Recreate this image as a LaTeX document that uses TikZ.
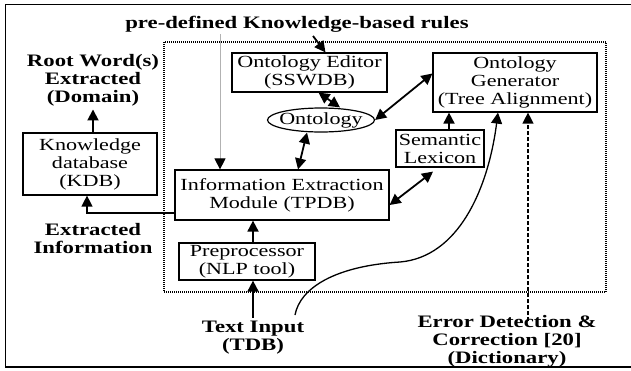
\documentclass[tikz,border=0pt]{standalone}
\usepackage{fontspec}
\setmainfont{Liberation Serif}[FakeStretch=1.3]
\usetikzlibrary{arrows.meta,shapes.geometric}

\begin{document}
\begin{tikzpicture}[x=1pt,y=-1pt,line join=miter,
	>={Triangle[length=11pt,width=11pt]},
	box/.style={draw,line width=1.2pt,inner sep=0pt,align=center,font=\fontsize{17}{18}\selectfont},
	lbl/.style={align=center,font=\fontsize{17.5}{18}\selectfont\bfseries},
	fat/.style={line width=1.8pt},
	thin/.style={line width=1.3pt}]
	\useasboundingbox (0,0) rectangle (631,370);
	\draw[line width=1.5pt] (633,4.5)--(5.5,4.5)--(5.5,367)--(633,367);
	\draw[line width=2.4pt,dash pattern=on 1pt off 1pt] (164,42) rectangle (606,292);
	\node[lbl] (rules) at (297,24) {pre-defined Knowledge-based rules};
	\node[lbl] (root) at (93,80) {Root Word(s)\\Extracted\\(Domain)};
	\node[lbl] (extr) at (93,239) {Extracted\\Information};
	\node[lbl] (tdb) at (253,338) {Text Input\\(TDB)};
	\node[lbl] (err) at (507,341) {Error Detection \&\\Correction [20]\\(Dictionary)};
	\node[box,minimum width=155pt,minimum height=39pt] (oe) at (309.5,72.5) {Ontology Editor\\(SSWDB)};
	\node[box,ellipse,minimum width=107pt,minimum height=24pt] (onto) at (321,120) {\makebox[0pt]{Ontology}};
	\node[box,minimum width=164pt,minimum height=59pt] (og) at (515,82.5) {Ontology\\Generator\\(Tree Alignment)};
	\node[box,minimum width=88pt,minimum height=37pt] (sl) at (440,148.5) {Semantic\\Lexicon};
	\node[box,minimum width=214pt,minimum height=50pt] (iem) at (282,195) {Information Extraction\\Module (TPDB)};
	\node[box,minimum width=136pt,minimum height=37pt] (pre) at (247,261.5) {Preprocessor\\(NLP tool)};
	\node[box,minimum width=134pt,minimum height=62pt] (kdb) at (90,164) {Knowledge\\database\\(KDB)};
	\coordinate (rulesA) at (220,34);
	\coordinate (rulesB) at (313,36);
	\coordinate (tdbC) at (295,315);
	\coordinate (errD) at (528,321);
	\draw[line width=0.9pt,gray!60,-{Triangle[length=11pt,width=11pt,color=black]}] (rulesA)--(rulesA |- iem.north);
	\draw[fat,->] (rulesB)--([xshift=16pt]oe.north);
	\draw[fat,<->] ([xshift=9pt]oe.south)--([xshift=19pt]onto.north);
	\draw[fat,<->] (onto.east)--([yshift=9pt]og.west);
	\draw[fat,<->] ([xshift=16pt]iem.north)--([xshift=-14pt]onto.south);
	\draw[fat,<->] ([yshift=-10pt]iem.east)--([xshift=-7pt,yshift=-4pt]sl.south);
	\draw[fat,->] ([xshift=9pt]sl.north)--([xshift=9pt]sl.north |- og.south);
	\draw[fat,->] ([xshift=6pt]pre.north)--([xshift=6pt]pre.north |- iem.south);
	\draw[fat,->] (tdb.north)--(tdb.north |- pre.south);
	\draw[fat,->] (kdb.north -| root.south)--(root.south);
	\draw[thin,->] ([yshift=-18pt]iem.west)-|([xshift=-3pt]kdb.south);
	\draw[thin,->] (tdbC) .. controls (300,288) and (335,266) .. (400,262) .. controls (458,257) and (488,190) .. ([xshift=-17pt]og.south);
	\draw[thin,dash pattern=on 4pt off 2pt,->] (errD)--(errD |- og.south);
\end{tikzpicture}
\end{document}
